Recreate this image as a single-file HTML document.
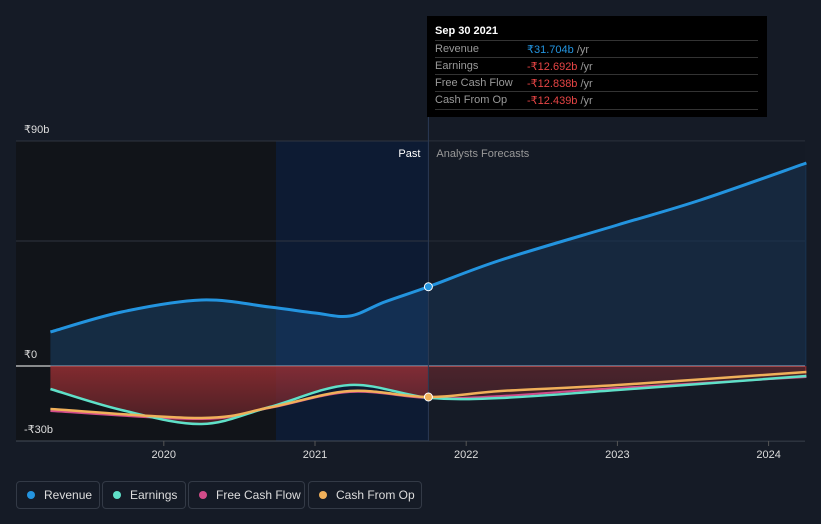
<!DOCTYPE html>
<html><head><meta charset="utf-8"><style>
body{margin:0;background:#151b26;font-family:"Liberation Sans",sans-serif;}
#wrap{position:relative;width:821px;height:524px;overflow:hidden;}
.tt{position:absolute;left:427px;top:16px;width:340px;height:101px;background:#000;color:#ccc;font-size:11px;}
.tt .h{position:absolute;left:8px;top:9px;color:#fff;font-weight:bold;font-size:11px}
.row{position:absolute;left:8px;width:323px;height:16px;border-top:1px solid #333;}
.row span{position:absolute;top:2px}
.legend{position:absolute;top:481px;height:26px;border:1px solid #333a46;border-radius:4px;color:#ddd;font-size:12px;line-height:26px;}
.dot{display:inline-block;width:8px;height:8px;border-radius:4px;margin:0 9px 0 10px;}
</style></head><body>
<div id="wrap">
<svg id="svg" width="821" height="524" style="position:absolute;left:0;top:0"></svg>
<div class="tt">
<div class="h">Sep 30 2021</div>
<div class="row" style="top:24px"><span style="color:#999">Revenue</span><span style="left:92px;color:#2394df">₹31.704b <span style="position:static;color:#999">/yr</span></span></div>
<div class="row" style="top:41px"><span style="color:#999">Earnings</span><span style="left:92px;color:#e64545">-₹12.692b <span style="position:static;color:#999">/yr</span></span></div>
<div class="row" style="top:58px"><span style="color:#999">Free Cash Flow</span><span style="left:92px;color:#e64545">-₹12.838b <span style="position:static;color:#999">/yr</span></span></div>
<div class="row" style="top:75px;border-bottom:1px solid #333;height:17px"><span style="color:#999">Cash From Op</span><span style="left:92px;color:#e64545">-₹12.439b <span style="position:static;color:#999">/yr</span></span></div>
</div>
<div class="legend" style="left:16px;width:82px"><span class="dot" style="background:#2394df"></span>Revenue</div>
<div class="legend" style="left:102px;width:82px"><span class="dot" style="background:#5fe0c8"></span>Earnings</div>
<div class="legend" style="left:188px;width:115px"><span class="dot" style="background:#d24c8a"></span>Free Cash Flow</div>
<div class="legend" style="left:308px;width:112px"><span class="dot" style="background:#f0b05a"></span>Cash From Op</div>
</div>
<script>
const yTicks=[90,0,-30];
const yTickLabels=["₹90b","₹0","-₹30b"];
const xTicks=[2020,2021,2022,2023,2024];
const revX=[2019.25,2019.72,2020.25,2020.7,2021,2021.23,2021.46,2021.75,2022.23,2023,2023.55,2024.25];
const revY=[13.6,21.6,26.4,23.6,21.2,20,25.6,31.7,42.4,56.4,66.4,81.2];
const earnX=[2019.25,2019.72,2020.25,2020.7,2021.23,2021.75,2022.23,2023,2024.25];
const earnY=[-9.2,-17.6,-23.2,-16.4,-7.6,-12.7,-12.8,-9.6,-4];
const fcfX=[2019.25,2020.25,2020.7,2021.23,2021.75,2022.23,2023,2024.25];
const fcfY=[-18,-21.2,-16.8,-10.4,-12.8,-12,-8.8,-4.4];
const cfoX=[2019.25,2020.25,2020.7,2021.23,2021.75,2022.23,2023,2024.25];
const cfoY=[-17.2,-20.8,-16.6,-10,-12.4,-10,-7.6,-2.4];
const nowX=2021.75;
const X=v=>315+(v-2021)*151.2, Y=v=>366-v*2.5;
const svg=document.getElementById('svg');const NS='http://www.w3.org/2000/svg';
function add(tag,attrs,name){const e=document.createElementNS(NS,tag);for(const k in attrs)e.setAttribute(k,attrs[k]);


svg.appendChild(e);return e;}
function path(xs,ys){const p=xs.map((x,i)=>[X(x),Y(ys[i])]);let d='M'+p[0];for(let i=0;i<p.length-1;i++){const p0=p[i-1]||p[i],p1=p[i],p2=p[i+1],p3=p[i+2]||p2;
d+=`C${p1[0]+(p2[0]-p0[0])/6},${p1[1]+(p2[1]-p0[1])/6} ${p2[0]-(p3[0]-p1[0])/6},${p2[1]-(p3[1]-p1[1])/6} ${p2[0]},${p2[1]}`;}return d;}
svg.innerHTML=`<defs><linearGradient id="neg" x1="0" y1="0" x2="0" y2="1"><stop offset="0" stop-color="#a83236"/><stop offset="1" stop-color="#5a2228"/></linearGradient></defs>`;
const xn=X(nowX);
add('rect',{x:16,y:141,width:260,height:300,fill:'#111419'},'past-background');
add('rect',{x:276,y:141,width:xn-276,height:300,fill:'#0d1b33'},'past-highlight');
add('rect',{x:xn,y:141,width:805-xn,height:300,fill:'#151b26'},'forecast-background');
yTicks.forEach((t,i)=>{add('line',{x1:16,x2:805,y1:Y(t),y2:Y(t),stroke:t==0?'#fff':'#2e3440','stroke-width':1},'gridline');
const tx=add('text',{x:24,y:Y(t)-8,fill:'#ddd','font-size':11},'y-tick-label');tx.textContent=yTickLabels[i];});
add('line',{x1:16,x2:805,y1:Y(50),y2:Y(50),stroke:'#2e3440'},'gridline');
add('line',{x1:16,x2:805,y1:441,y2:441,stroke:'#444b57'},'x-axis');
xTicks.forEach(t=>{add('line',{x1:X(t),x2:X(t),y1:441,y2:446,stroke:'#555'},'x-tick');
const tx=add('text',{x:X(t),y:458,fill:'#ddd','font-size':11,'text-anchor':'middle'},'x-tick-label');tx.textContent=t;});
const rp=path(revX,revY);
add('path',{d:rp+`L${X(revX[revX.length-1])},${Y(0)}L${X(revX[0])},${Y(0)}Z`,fill:'#1a4a78','fill-opacity':0.45},'revenue-area');
const ep=path(earnX,earnY);
add('path',{d:ep+`L${X(earnX[earnX.length-1])},${Y(0)}L${X(earnX[0])},${Y(0)}Z`,fill:'url(#neg)','fill-opacity':0.75},'earnings-area');
add('rect',{x:xn,y:141,width:805-xn,height:224,fill:'#151b26','fill-opacity':0.3},'forecast-dim-top');
add('rect',{x:xn,y:367,width:805-xn,height:74,fill:'#151b26','fill-opacity':0.5},'forecast-dim-bottom');
add('line',{x1:xn,x2:xn,y1:117,y2:441,stroke:'#2a3a55'},'now-line');
add('path',{d:path(fcfX,fcfY),fill:'none',stroke:'#d24c8a','stroke-width':2},'fcf-line');
add('path',{d:ep,fill:'none',stroke:'#5fe0c8','stroke-width':2.5},'earnings-line');
add('path',{d:path(cfoX,cfoY),fill:'none',stroke:'#f0b05a','stroke-width':2.5},'cfo-line');
add('path',{d:rp,fill:'none',stroke:'#2394df','stroke-width':3},'revenue-line');
add('circle',{cx:xn,cy:Y(revY[7]),r:4,fill:'#2394df',stroke:'#fff','stroke-width':1},'revenue-marker');
add('circle',{cx:xn,cy:Y(cfoY[4]),r:4,fill:'#f0b05a',stroke:'#fff','stroke-width':1},'cfo-marker');
let t=add('text',{x:xn-8,y:157,fill:'#fff','font-size':11,'text-anchor':'end'},'past-label');t.textContent='Past';
t=add('text',{x:xn+8,y:157,fill:'#999','font-size':11},'forecast-label');t.textContent='Analysts Forecasts';
</script>
</body></html>
